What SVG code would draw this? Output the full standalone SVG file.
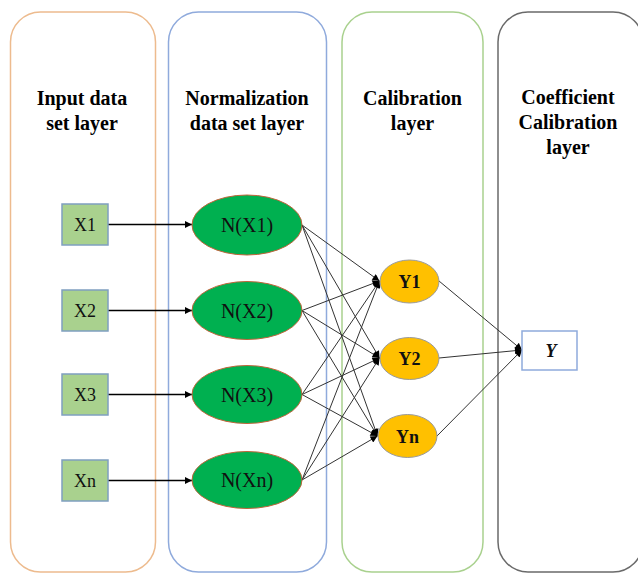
<svg xmlns="http://www.w3.org/2000/svg" width="638" height="573" viewBox="0 0 638 573">
<defs>
<style>
.panel{fill:#fff;stroke-width:1.5}
.title{font-family:"Liberation Serif","DejaVu Serif",serif;font-weight:bold;font-size:20px;fill:#000;text-anchor:middle}
.xbox{fill:#A9D18E;stroke:#7F9FC0;stroke-width:1.5}
.xl{font-family:"Liberation Serif","DejaVu Serif",serif;font-size:18px;fill:#111;text-anchor:middle}
.nn{fill:#00B050;stroke:#C0643A;stroke-width:1}
.nl{font-family:"Liberation Serif","DejaVu Serif",serif;font-size:20px;fill:#111;text-anchor:middle}
.yn{fill:#FFC000;stroke:#9A9A9A;stroke-width:1}
.yl{font-family:"Liberation Serif","DejaVu Serif",serif;font-size:18px;font-weight:bold;fill:#111;text-anchor:middle}
.ybox{fill:#fff;stroke:#8FAADC;stroke-width:1.5}
.in{stroke:#000;stroke-width:1.6;fill:none}
.c{stroke:#333;stroke-width:1;fill:none}
</style>
<marker id="ah" viewBox="0 0 10 10" refX="10" refY="5" markerWidth="9" markerHeight="7" markerUnits="userSpaceOnUse" orient="auto">
<path d="M0,0 L10,5 L0,10 Z" fill="#000"/>
</marker>
</defs>
<rect width="638" height="573" fill="#fff"/>
<g id="panel-input">
<rect class="panel" x="10.5" y="12" width="145" height="560" rx="30" ry="30" stroke="#EDBB8E"/>
<text class="title" x="82" y="105">Input data</text>
<text class="title" x="82" y="130">set layer</text>
</g>
<g id="panel-normalization">
<rect class="panel" x="168.5" y="12" width="158" height="560" rx="30" ry="30" stroke="#8FAADC"/>
<text class="title" x="247" y="105">Normalization</text>
<text class="title" x="247" y="130">data set layer</text>
</g>
<g id="panel-calibration">
<rect class="panel" x="342" y="12" width="141" height="560" rx="30" ry="30" stroke="#A9D18E"/>
<text class="title" x="412.5" y="105">Calibration</text>
<text class="title" x="412.5" y="130">layer</text>
</g>
<g id="panel-coefficient">
<rect class="panel" x="498" y="12" width="145" height="560" rx="30" ry="30" stroke="#6A6A6A"/>
<text class="title" x="568" y="104">Coefficient</text>
<text class="title" x="568" y="129">Calibration</text>
<text class="title" x="568" y="154">layer</text>
</g>
<g id="connectors">
<line class="in" x1="108" y1="224.5" x2="192" y2="224.5" marker-end="url(#ah)"/>
<line class="in" x1="108" y1="310.5" x2="192" y2="310.5" marker-end="url(#ah)"/>
<line class="in" x1="108" y1="394.5" x2="192" y2="394.5" marker-end="url(#ah)"/>
<line class="in" x1="108" y1="480.5" x2="192" y2="480.5" marker-end="url(#ah)"/>
<line class="c" x1="302" y1="225" x2="379.5" y2="281" marker-end="url(#ah)"/>
<line class="c" x1="302" y1="225" x2="379.5" y2="358" marker-end="url(#ah)"/>
<line class="c" x1="302" y1="225" x2="377.5" y2="436" marker-end="url(#ah)"/>
<line class="c" x1="302" y1="310.5" x2="379.5" y2="281" marker-end="url(#ah)"/>
<line class="c" x1="302" y1="310.5" x2="379.5" y2="358" marker-end="url(#ah)"/>
<line class="c" x1="302" y1="310.5" x2="377.5" y2="436" marker-end="url(#ah)"/>
<line class="c" x1="302" y1="394.5" x2="379.5" y2="281" marker-end="url(#ah)"/>
<line class="c" x1="302" y1="394.5" x2="379.5" y2="358" marker-end="url(#ah)"/>
<line class="c" x1="302" y1="394.5" x2="377.5" y2="436" marker-end="url(#ah)"/>
<line class="c" x1="302" y1="480" x2="379.5" y2="281" marker-end="url(#ah)"/>
<line class="c" x1="302" y1="480" x2="379.5" y2="358" marker-end="url(#ah)"/>
<line class="c" x1="302" y1="480" x2="377.5" y2="436" marker-end="url(#ah)"/>
<line class="c" x1="439" y1="281" x2="522" y2="350" marker-end="url(#ah)"/>
<line class="c" x1="439" y1="358" x2="522" y2="350" marker-end="url(#ah)"/>
<line class="c" x1="437" y1="436" x2="522" y2="350" marker-end="url(#ah)"/>
</g>
<g id="node-x1"><rect class="xbox" x="62" y="204" width="46" height="41"/><text class="xl" x="85" y="231">X1</text></g>
<g id="node-x2"><rect class="xbox" x="62" y="290" width="46" height="41"/><text class="xl" x="85" y="317">X2</text></g>
<g id="node-x3"><rect class="xbox" x="62" y="374" width="46" height="41"/><text class="xl" x="85" y="401">X3</text></g>
<g id="node-xn"><rect class="xbox" x="62" y="460" width="46" height="41"/><text class="xl" x="85" y="487">Xn</text></g>
<g id="node-nx1"><ellipse class="nn" cx="247" cy="225" rx="55" ry="30"/><text class="nl" x="247" y="232">N(X1)</text></g>
<g id="node-nx2"><ellipse class="nn" cx="247" cy="310.5" rx="55" ry="29"/><text class="nl" x="247" y="317.5">N(X2)</text></g>
<g id="node-nx3"><ellipse class="nn" cx="247" cy="394.5" rx="55" ry="29"/><text class="nl" x="247" y="401.5">N(X3)</text></g>
<g id="node-nxn"><ellipse class="nn" cx="247" cy="480" rx="55" ry="28.5"/><text class="nl" x="247" y="487">N(Xn)</text></g>
<g id="node-y1"><ellipse class="yn" cx="409.5" cy="281.5" rx="29.5" ry="21.5"/><text class="yl" x="409.5" y="288">Y1</text></g>
<g id="node-y2"><ellipse class="yn" cx="409.5" cy="358.5" rx="29.5" ry="21"/><text class="yl" x="409.5" y="365">Y2</text></g>
<g id="node-yn"><ellipse class="yn" cx="407.5" cy="436" rx="29.5" ry="21.5"/><text class="yl" x="407.5" y="442.5">Yn</text></g>
<g id="node-y"><rect class="ybox" x="522" y="331" width="55" height="39"/><text class="yl" x="551" y="357" font-style="italic" font-size="19">Y</text></g>
</svg>
